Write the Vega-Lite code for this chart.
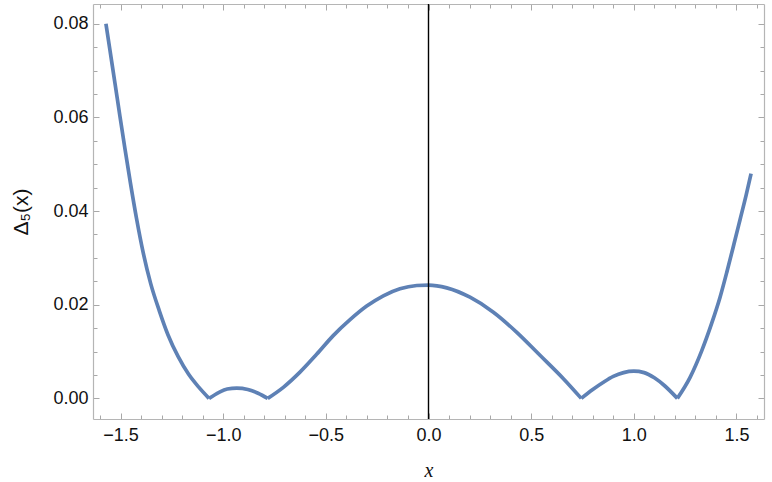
{
  "$schema": "https://vega.github.io/schema/vega-lite/v6.json",
  "width": 671,
  "height": 415,
  "autosize": {"type": "none"},
  "padding": {"left": 93, "top": 4, "right": 8, "bottom": 63},
  "background": "white",
  "config": {
    "view": {"stroke": null},
    "axis": {
      "grid": false,
      "domainColor": "#b5b5b5",
      "domainWidth": 1.2,
      "tickColor": "#a8a8a8",
      "tickWidth": 1,
      "labelColor": "#111111",
      "labelFont": "Liberation Sans",
      "labelFontSize": 18,
      "labelOverlap": false,
      "labelFlush": false,
      "labelBound": false
    }
  },
  "data": {
    "values": [
      {"x": -1.571, "y": 0.0800, "seg": "A"},
      {"x": -1.551, "y": 0.0742, "seg": "A"},
      {"x": -1.527, "y": 0.0673, "seg": "A"},
      {"x": -1.503, "y": 0.0603, "seg": "A"},
      {"x": -1.478, "y": 0.0532, "seg": "A"},
      {"x": -1.451, "y": 0.0458, "seg": "A"},
      {"x": -1.422, "y": 0.0384, "seg": "A"},
      {"x": -1.389, "y": 0.0310, "seg": "A"},
      {"x": -1.353, "y": 0.0245, "seg": "A"},
      {"x": -1.311, "y": 0.0187, "seg": "A"},
      {"x": -1.269, "y": 0.0136, "seg": "A"},
      {"x": -1.219, "y": 0.0089, "seg": "A"},
      {"x": -1.169, "y": 0.0052, "seg": "A"},
      {"x": -1.119, "y": 0.0024, "seg": "A"},
      {"x": -1.069, "y": 0.0, "seg": "A"},
      {"x": -1.069, "y": 0.0, "seg": "B"},
      {"x": -1.02, "y": 0.0013, "seg": "B"},
      {"x": -0.98, "y": 0.0020, "seg": "B"},
      {"x": -0.934, "y": 0.0022, "seg": "B"},
      {"x": -0.88, "y": 0.0019, "seg": "B"},
      {"x": -0.83, "y": 0.0011, "seg": "B"},
      {"x": -0.783, "y": 0.0, "seg": "B"},
      {"x": -0.783, "y": 0.0, "seg": "C"},
      {"x": -0.707, "y": 0.00236, "seg": "C"},
      {"x": -0.626, "y": 0.0056, "seg": "C"},
      {"x": -0.545, "y": 0.0094, "seg": "C"},
      {"x": -0.464, "y": 0.0134, "seg": "C"},
      {"x": -0.382, "y": 0.0168, "seg": "C"},
      {"x": -0.301, "y": 0.0197, "seg": "C"},
      {"x": -0.220, "y": 0.0219, "seg": "C"},
      {"x": -0.139, "y": 0.0234, "seg": "C"},
      {"x": -0.057, "y": 0.0241, "seg": "C"},
      {"x": 0.0, "y": 0.0242, "seg": "C"},
      {"x": 0.089, "y": 0.0236, "seg": "C"},
      {"x": 0.202, "y": 0.0216, "seg": "C"},
      {"x": 0.316, "y": 0.0184, "seg": "C"},
      {"x": 0.430, "y": 0.0141, "seg": "C"},
      {"x": 0.543, "y": 0.0092, "seg": "C"},
      {"x": 0.657, "y": 0.0042, "seg": "C"},
      {"x": 0.744, "y": 0.0, "seg": "C"},
      {"x": 0.744, "y": 0.0, "seg": "D"},
      {"x": 0.80, "y": 0.0019, "seg": "D"},
      {"x": 0.85, "y": 0.0034, "seg": "D"},
      {"x": 0.90, "y": 0.0047, "seg": "D"},
      {"x": 0.95, "y": 0.0055, "seg": "D"},
      {"x": 1.0, "y": 0.0058, "seg": "D"},
      {"x": 1.05, "y": 0.0055, "seg": "D"},
      {"x": 1.10, "y": 0.0044, "seg": "D"},
      {"x": 1.15, "y": 0.0027, "seg": "D"},
      {"x": 1.212, "y": 0.0, "seg": "D"},
      {"x": 1.212, "y": 0.0, "seg": "E"},
      {"x": 1.274, "y": 0.0045, "seg": "E"},
      {"x": 1.331, "y": 0.0102, "seg": "E"},
      {"x": 1.379, "y": 0.0160, "seg": "E"},
      {"x": 1.420, "y": 0.0216, "seg": "E"},
      {"x": 1.455, "y": 0.0273, "seg": "E"},
      {"x": 1.488, "y": 0.0330, "seg": "E"},
      {"x": 1.517, "y": 0.0381, "seg": "E"},
      {"x": 1.547, "y": 0.0434, "seg": "E"},
      {"x": 1.571, "y": 0.0480, "seg": "E"}
    ]
  },
  "layer": [
    {
      "mark": {"type": "line", "interpolate": "monotone", "color": "#5E81B5", "strokeWidth": 3.7, "strokeCap": "butt"},
      "encoding": {
        "x": {
          "field": "x", "type": "quantitative",
          "scale": {"domain": [-1.634, 1.634], "nice": false, "zero": false},
          "axis": {
            "orient": "bottom",
            "values": [-1.6, -1.5, -1.4, -1.3, -1.2, -1.1, -1.0, -0.9, -0.8, -0.7, -0.6, -0.5, -0.4, -0.3, -0.2, -0.1, 0, 0.1, 0.2, 0.3, 0.4, 0.5, 0.6, 0.7, 0.8, 0.9, 1.0, 1.1, 1.2, 1.3, 1.4, 1.5, 1.6],
            "labelExpr": "abs(round(datum.value*10))%5==0 ? format(datum.value,'.1f') : ''",
            "tickSize": {"condition": {"test": "abs(round(datum.value*10))%5==0", "value": -6}, "value": -4},
            "labelPadding": 13,
            "title": "x",
            "titleFont": "Liberation Serif",
            "titleFontStyle": "italic",
            "titleFontWeight": "normal",
            "titleFontSize": 20,
            "titleColor": "#111111",
            "titlePadding": 14
          }
        },
        "y": {
          "field": "y", "type": "quantitative",
          "scale": {"domain": [-0.0044, 0.0842], "nice": false, "zero": false},
          "axis": {
            "orient": "left",
            "values": [0, 0.005, 0.01, 0.015, 0.02, 0.025, 0.03, 0.035, 0.04, 0.045, 0.05, 0.055, 0.06, 0.065, 0.07, 0.075, 0.08],
            "labelExpr": "round(datum.value*1000)%20==0 ? format(datum.value,'.2f') : ''",
            "tickSize": {"condition": {"test": "round(datum.value*1000)%20==0", "value": -6}, "value": -4},
            "labelPadding": 11,
            "title": "Δ₅(x)",
            "titleFont": "Liberation Sans",
            "titleFontWeight": "normal",
            "titleFontSize": 21,
            "titleColor": "#111111",
            "titlePadding": 21
          }
        },
        "detail": {"field": "seg"}
      }
    },
    {
      "data": {"values": [{"v": 0}]},
      "mark": {"type": "rule", "color": "black", "strokeWidth": 1.4},
      "encoding": {
        "x": {
          "datum": 0, "type": "quantitative",
          "scale": {"domain": [-1.634, 1.634], "nice": false, "zero": false},
          "axis": {
            "orient": "top",
            "values": [-1.6, -1.5, -1.4, -1.3, -1.2, -1.1, -1.0, -0.9, -0.8, -0.7, -0.6, -0.5, -0.4, -0.3, -0.2, -0.1, 0, 0.1, 0.2, 0.3, 0.4, 0.5, 0.6, 0.7, 0.8, 0.9, 1.0, 1.1, 1.2, 1.3, 1.4, 1.5, 1.6],
            "labels": false,
            "tickSize": {"condition": {"test": "abs(round(datum.value*10))%5==0", "value": -6}, "value": -4},
            "title": null
          }
        },
        "y": {
          "datum": -0.0044, "type": "quantitative",
          "scale": {"domain": [-0.0044, 0.0842], "nice": false, "zero": false},
          "axis": {
            "orient": "right",
            "values": [0, 0.005, 0.01, 0.015, 0.02, 0.025, 0.03, 0.035, 0.04, 0.045, 0.05, 0.055, 0.06, 0.065, 0.07, 0.075, 0.08],
            "labels": false,
            "tickSize": {"condition": {"test": "round(datum.value*1000)%20==0", "value": -6}, "value": -4},
            "title": null
          }
        },
        "y2": {"datum": 0.0842}
      }
    }
  ],
  "resolve": {"axis": {"x": "independent", "y": "independent"}}
}
